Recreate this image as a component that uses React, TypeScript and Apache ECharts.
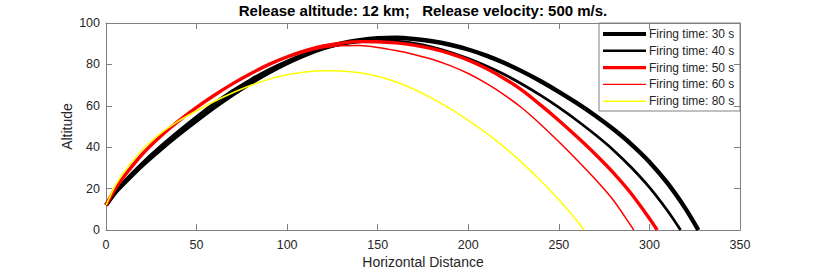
import React, { useEffect, useRef } from "react";
import * as echarts from "echarts";

const seriesNames = [
  "Firing time: 30 s",
  "Firing time: 40 s",
  "Firing time: 50 s",
  "Firing time: 60 s",
  "Firing time: 80 s",
];

const fire30: number[][] = [
  [0, 12], [5, 18], [10, 22.6], [20, 31.2], [30, 38.9], [40, 46.1], [50, 52.9], [60, 59.4],
  [70, 65.5], [80, 71.1], [90, 76.2], [100, 80.7], [110, 84.6], [120, 87.8], [130, 90.2],
  [140, 91.7], [150, 92.6], [160, 92.85], [170, 92.3], [180, 91.2], [190, 89.5], [200, 87.2],
  [210, 84.25], [220, 80.65], [230, 76.5], [240, 71.85], [250, 66.75], [260, 61.25],
  [270, 55.3], [280, 48.75], [290, 41.4], [300, 32.9], [310, 22.6], [320, 10.2], [327, 0],
];
const fire40: number[][] = [
  [0, 12], [5, 18.6], [10, 23.6], [20, 32.4], [30, 40.4], [40, 47.8], [50, 54.8], [60, 61.4],
  [70, 67.4], [80, 72.8], [90, 77.6], [100, 81.7], [110, 85.1], [120, 87.8], [130, 89.7],
  [140, 90.9], [150, 91.4], [160, 91.2], [170, 90.2], [180, 88.4], [190, 85.9], [200, 82.8],
  [210, 79.2], [220, 75.1], [230, 70.3], [240, 65.0], [250, 59.2], [260, 52.9], [270, 46.1],
  [280, 38.7], [290, 30.2], [300, 20.6], [310, 9.3], [317.2, 0],
];
const fire50: number[][] = [
  [0, 12], [5, 19.8], [10, 26], [20, 36.6], [30, 45.2], [40, 52.6], [50, 59.2], [60, 65.2],
  [70, 70.7], [80, 75.6], [90, 80.0], [100, 83.7], [110, 86.7], [120, 88.9], [130, 90.3],
  [140, 91.0], [150, 90.95], [160, 90.4], [170, 89.3], [180, 87.6], [190, 85.2], [200, 82.1],
  [210, 78.0], [220, 73.1], [230, 67.3], [240, 60.3], [250, 52.9], [260, 45.0], [270, 36.7],
  [280, 27.7], [290, 17.5], [300, 5.6], [304.3, 0],
];
const fire60: number[][] = [
  [0, 12], [5, 20], [10, 26.3], [20, 36.9], [30, 45.5], [40, 52.9], [50, 59.4], [60, 65.3],
  [70, 70.7], [80, 75.5], [90, 79.7], [100, 83.2], [110, 86.0], [120, 88.0], [130, 89.0],
  [140, 89.1], [150, 88.2], [160, 86.7], [170, 84.8], [180, 82.5], [190, 79.4], [200, 75.6],
  [210, 70.8], [220, 65.2], [230, 58.7], [240, 51.0], [250, 42.6], [260, 33.8], [270, 24.6],
  [280, 14.5], [290, 1.8], [291.3, 0],
];
const fire80: number[][] = [
  [0, 12], [5, 21.2], [10, 28], [20, 38.8], [30, 46.6], [40, 52.6], [50, 57.6], [60, 62.2],
  [70, 66.3], [80, 69.9], [90, 72.9], [100, 75.0], [110, 76.3], [120, 76.9], [130, 76.8],
  [140, 76.0], [150, 74.3], [160, 71.6], [170, 68.0], [180, 63.6], [190, 58.6], [200, 53.0],
  [210, 46.8], [220, 39.9], [230, 32.2], [240, 23.8], [250, 14.6], [260, 4.5], [263.8, 0],
];

const seriesData = [fire30, fire40, fire50, fire60, fire80];
const seriesColors = ["#000000", "#000000", "#ff0000", "#ff0000", "#ffff00"];
const seriesWidths = [4.4, 2.7, 3.4, 1.5, 1.5];

const xTicks = { min: 0, max: 350, interval: 50 };
const yTicks = { min: 0, max: 100, interval: 20 };

const titleText = "Release altitude: 12 km;   Release velocity: 500 m/s.";
const xName = "Horizontal Distance";
const yName = "Altitude";

const FONT = "'Liberation Sans', Arial, Helvetica, sans-serif";
const AXIS_COLOR = "#808080";
const TEXT_COLOR = "#262626";

export default function App() {
  const ref = useRef<HTMLDivElement>(null);
  useEffect(() => {
    if (!ref.current) return;
    const chart = echarts.init(ref.current, null, { renderer: "svg" });

    const axisCommon = {
      type: "value" as const,
      axisLine: { show: true, onZero: false, lineStyle: { color: AXIS_COLOR, width: 1 } },
      axisTick: { show: true, inside: true, length: 6, lineStyle: { color: AXIS_COLOR } },
      splitLine: { show: false },
    };

    const lgLeft = 599, lgTop = 23, lgW = 141, lgH = 88;
    const legendChildren: any[] = [
      {
        type: "rect",
        shape: { x: lgLeft, y: lgTop, width: lgW, height: lgH },
        style: { fill: "#ffffff", stroke: "#808080", lineWidth: 1 },
      },
    ];
    seriesNames.forEach((n, i) => {
      const cy = lgTop + 11 + i * 16.8;
      legendChildren.push({
        type: "line",
        shape: { x1: lgLeft + 4, y1: cy, x2: lgLeft + 47, y2: cy },
        style: { stroke: seriesColors[i], lineWidth: seriesWidths[i] * 0.95 },
      });
      legendChildren.push({
        type: "text",
        x: lgLeft + 50,
        y: cy,
        style: {
          text: n,
          fill: TEXT_COLOR,
          font: `12px ${FONT}`,
          verticalAlign: "middle",
          align: "left",
        },
      });
    });

    chart.setOption({
      animation: false,
      backgroundColor: "#ffffff",
      title: {
        text: titleText,
        left: 423,
        textAlign: "center",
        top: 3,
        padding: 0,
        textStyle: { fontFamily: FONT, fontSize: 15, fontWeight: "bold", color: "#000000" },
      },
      grid: { left: 106, right: 77, top: 23, bottom: 43, outerBoundsMode: "none", containLabel: false },
      xAxis: [
        {
          ...axisCommon,
          position: "bottom",
          ...xTicks,
          name: xName,
          nameLocation: "middle",
          nameGap: 24.5,
          nameMoveOverlap: false,
          nameTextStyle: { fontFamily: FONT, fontSize: 14, color: TEXT_COLOR },
          axisLabel: { fontFamily: FONT, fontSize: 12.5, color: TEXT_COLOR, margin: 8 },
        },
        {
          ...axisCommon,
          position: "top",
          ...xTicks,
          axisLabel: { show: false },
        },
      ],
      yAxis: [
        {
          ...axisCommon,
          position: "left",
          ...yTicks,
          name: yName,
          nameLocation: "middle",
          nameGap: 32.5,
          nameMoveOverlap: false,
          nameTextStyle: { fontFamily: FONT, fontSize: 14, color: TEXT_COLOR },
          axisLabel: { fontFamily: FONT, fontSize: 12.5, color: TEXT_COLOR, margin: 6 },
        },
        {
          ...axisCommon,
          position: "right",
          ...yTicks,
          axisLabel: { show: false },
        },
      ],
      series: seriesNames.map((n, i) => ({
        name: n,
        type: "line",
        xAxisIndex: 0,
        yAxisIndex: 0,
        data: seriesData[i],
        showSymbol: false,
        symbol: "none",
        smooth: 0.25,
        lineStyle: { color: seriesColors[i], width: seriesWidths[i] },
        z: 2 + i,
      })),
      graphic: [{ type: "group", children: legendChildren, z: 100 }],
    });
    return () => chart.dispose();
  }, []);
  return (
    <div
      ref={ref}
      style={{ position: "fixed", left: 0, top: 0, width: 817, height: 273 }}
    />
  );
}
